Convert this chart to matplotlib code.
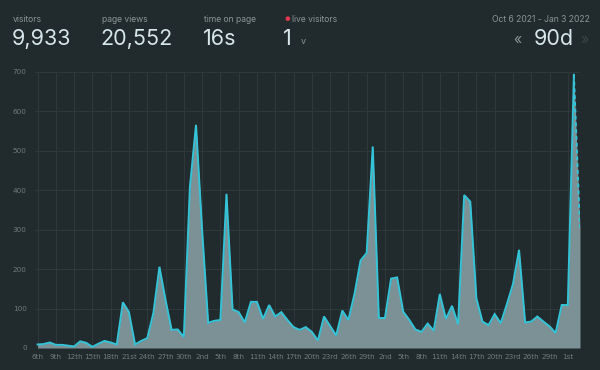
import matplotlib
matplotlib.use("Agg")
import matplotlib.pyplot as plt
import pandas as pd
import numpy as np

# ---- data ----
start_date = "2021-10-06"
visitors = [9, 10, 14, 8, 8, 6, 4, 17, 13, 3,
            11, 18, 14, 9, 116, 91, 9, 18, 25, 88,
            206, 122, 46, 47, 28, 409, 566, 300, 64, 69,
            71, 391, 98, 91, 65, 117, 117, 74, 109, 80,
            91, 71, 53, 46, 53, 41, 19, 80, 56, 32,
            95, 71, 137, 222, 241, 511, 76, 76, 176, 179,
            92, 71, 47, 41, 62, 44, 137, 74, 107, 60,
            388, 371, 126, 67, 58, 86, 63, 111, 162, 249,
            65, 67, 80, 67, 55, 38, 109, 109, 693, 304]
tick_labels = ["6th", "9th", "12th", "15th", "18th", "21st", "24th", "27th", "30th",
               "2nd", "5th", "8th", "11th", "14th", "17th", "20th", "23rd", "26th", "29th",
               "2nd", "5th", "8th", "11th", "14th", "17th", "20th", "23rd", "26th", "29th",
               "1st"]
y_ticks = [0, 100, 200, 300, 400, 500, 600, 700]

stat_labels = ["visitors", "page views", "time on page"]
stat_values = ["9,933", "20,552", "16s"]
live_label = "live visitors"
live_value = "1"
date_range_text = "Oct 6 2021 - Jan 3 2022"
period_text = "90d"

# ---- style ----
BG = "#212a2d"
GRID = "#2f383b"
FILL = "#7c9195"
LINE = "#34c4d8"
LABEL = "#8a9598"
BIG = "#d6e6ea"
TICK = "#6f7b7e"

dates = pd.date_range(start_date, periods=len(visitors), freq="D")

fig = plt.figure(figsize=(6, 3.7), dpi=100, facecolor=BG)
ax = fig.add_axes([35 / 600, 1 - 348 / 370, (580 - 35) / 600, (348 - 72) / 370])
ax.set_facecolor(BG)

x = np.arange(len(visitors))
ax.fill_between(dates, visitors, 0, color=FILL, linewidth=0, zorder=2)
ax.plot(dates[:-1], visitors[:-1], color=LINE, linewidth=1.4, zorder=3,
        solid_joinstyle="miter")
ax.plot(dates[-2:], visitors[-2:], color=LINE, linewidth=1.4, linestyle=(0, (2, 1.5)), zorder=3)

ax.set_xlim(dates[0] - pd.Timedelta(hours=10), dates[-1])
ax.set_ylim(0, 700)
ax.set_yticks(y_ticks)
ax.set_yticklabels([str(v) for v in y_ticks])
tick_dates = dates[::3][:len(tick_labels)]
ax.set_xticks(tick_dates)
ax.set_xticklabels(tick_labels)

ax.grid(True, color=GRID, linewidth=0.7, zorder=0)
ax.tick_params(axis="both", length=0, colors=TICK, labelsize=5.2, pad=4)
ax.tick_params(axis="y", pad=6)
for lab in ax.get_yticklabels() + ax.get_xticklabels():
    lab.set_fontfamily("DejaVu Sans")
for s in ax.spines.values():
    s.set_visible(False)
ax.axhline(0, color="#3a4346", linewidth=1.0, zorder=1)

# ---- header ----
fam = ["Inter", "DejaVu Sans"]
xs = [13, 102, 204]
for xp, lab, val in zip(xs, stat_labels, stat_values):
    fig.text(xp / 600, 1 - 19 / 370, lab, color=LABEL, fontsize=6.2, family=fam, va="center", ha="left")
    fig.text(xp / 600 - 0.002, 1 - 39 / 370, val, color=BIG, fontsize=15.5, family=fam, va="center", ha="left")

fig.text(287 / 600, 1 - 19 / 370, "●", color="#e0384f", fontsize=4.5, family=fam, va="center", ha="center")
fig.text(292 / 600, 1 - 19 / 370, live_label, color=LABEL, fontsize=6.2, family=fam, va="center", ha="left")
fig.text(283 / 600, 1 - 39 / 370, live_value, color=BIG, fontsize=15.5, family=fam, va="center", ha="left")
fig.text(303 / 600, 1 - 42 / 370, "v", color=LABEL, fontsize=6.5, family=fam, va="center", ha="center")

fig.text(590 / 600, 1 - 19 / 370, date_range_text, color=LABEL, fontsize=6.2, family=fam, va="center", ha="right")
fig.text(574 / 600, 1 - 39 / 370, period_text, color=BIG, fontsize=15.5, family=fam, va="center", ha="right")
fig.text(517 / 600, 1 - 40 / 370, "«", color=LABEL, fontsize=10, family=fam, va="center", ha="center")
fig.text(585 / 600, 1 - 40 / 370, "»", color="#3c4548", fontsize=10, family=fam, va="center", ha="center")

fig.savefig("out.png", dpi=100, facecolor=BG)
